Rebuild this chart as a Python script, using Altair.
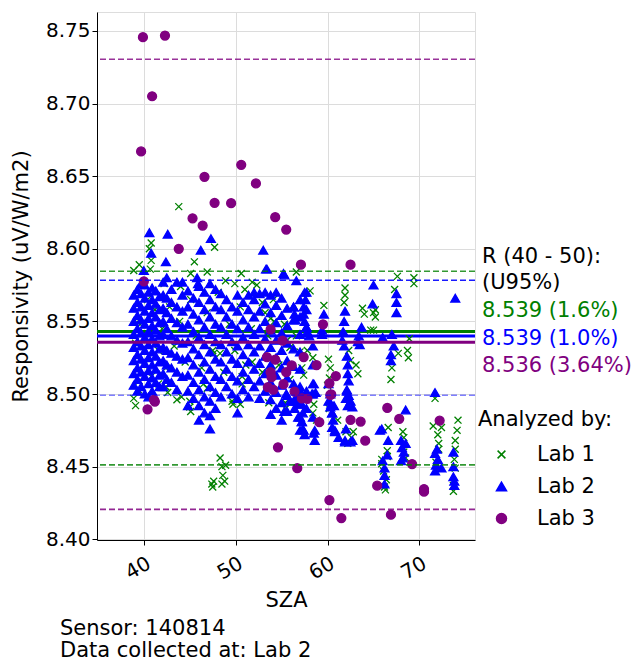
import altair as alt
import pandas as pd

# ---------------- data ----------------
lab_names = ["Lab 1", "Lab 2", "Lab 3"]
lab_colors = ["green", "blue", "purple"]
lab_fills = ["transparent", "blue", "purple"]

mean_values = [8.5431, 8.5399, 8.5357]
upper_limits = [8.5845, 8.5783, 8.7305]
lower_limits = [8.4512, 8.4992, 8.4206]
summary_texts = ["8.539 (1.6%)", "8.539 (1.0%)", "8.536 (3.64%)"]

x_ticks = [40, 50, 60, 70]
y_ticks = [8.40, 8.45, 8.50, 8.55, 8.60, 8.65, 8.70, 8.75]

# Lab 1 (green x)
lab1_points = [
    (43.8, 8.629), (40.8, 8.604), (40.6, 8.600), (40.8, 8.592), (40.7, 8.586), (39.5, 8.589),
    (38.9, 8.585), (45.5, 8.591), (45.1, 8.583), (47.7, 8.601), (46.9, 8.584), (50.6, 8.583),
    (51.8, 8.577), (52.9, 8.563), (53.2, 8.556), (53.8, 8.552), (54.2, 8.550), (56.6, 8.584),
    (58.1, 8.571), (59.6, 8.561), (61.9, 8.573), (61.9, 8.568), (61.8, 8.563), (63.8, 8.559),
    (64.0, 8.555), (65.0, 8.556), (64.7, 8.544), (65.0, 8.544), (62.3, 8.530), (62.5, 8.523),
    (63.1, 8.520), (63.3, 8.514), (57.0, 8.529), (58.4, 8.525), (57.2, 8.518), (57.4, 8.513),
    (60.1, 8.524), (60.3, 8.518), (60.2, 8.511), (60.0, 8.506), (58.5, 8.493), (58.4, 8.487),
    (58.8, 8.482), (61.1, 8.482), (62.0, 8.474), (62.6, 8.470), (62.8, 8.474), (62.2, 8.466),
    (60.2, 8.490), (60.4, 8.492),
    (67.6, 8.581), (69.4, 8.580), (69.4, 8.576), (67.3, 8.572), (65.2, 8.558), (65.2, 8.553),
    (67.7, 8.528), (68.7, 8.530), (68.8, 8.525), (67.0, 8.518), (66.9, 8.510), (68.9, 8.538),
    (71.7, 8.497), (66.6, 8.477), (66.5, 8.461), (66.5, 8.457), (65.9, 8.455), (65.9, 8.452),
    (66.2, 8.436), (66.3, 8.434), (68.2, 8.474), (68.3, 8.470), (68.2, 8.465), (68.3, 8.460),
    (68.5, 8.456), (71.5, 8.478), (72.4, 8.477), (72.0, 8.472), (72.1, 8.466), (72.1, 8.462),
    (71.8, 8.453), (72.1, 8.449), (74.2, 8.482), (74.1, 8.475), (73.9, 8.468), (73.9, 8.462),
    (73.8, 8.455), (73.9, 8.449), (73.7, 8.437), (73.7, 8.433), (66.1, 8.447), (66.4, 8.441),
    (48.3, 8.456), (48.5, 8.450), (48.9, 8.451), (48.6, 8.444), (48.8, 8.440), (48.5, 8.438),
    (47.4, 8.438), (47.6, 8.440), (47.5, 8.436),
    (39.5, 8.509), (39.4, 8.503), (41.6, 8.507), (42.4, 8.505), (42.6, 8.501), (45.0, 8.495),
    (45.0, 8.491), (45.1, 8.488), (46.5, 8.507), (46.9, 8.504), (47.6, 8.528), (48.3, 8.528),
    (51.8, 8.522), (50.7, 8.512), (50.7, 8.507), (49.6, 8.495), (49.7, 8.493), (53.6, 8.494),
    (55.6, 8.537), (55.9, 8.532), (38.9, 8.497), (39.1, 8.492), (43.6, 8.496), (44.1, 8.498),
    (50.5, 8.493), (55.4, 8.494), (55.4, 8.490),
    (39.1, 8.535), (39.6, 8.548), (40.0, 8.520), (40.4, 8.565), (40.8, 8.512), (41.2, 8.558),
    (41.6, 8.530), (42.0, 8.545), (42.4, 8.518), (42.8, 8.560), (43.3, 8.533), (43.9, 8.550),
    (44.5, 8.522), (45.1, 8.565), (45.7, 8.540), (46.3, 8.518), (46.9, 8.556), (47.5, 8.530),
    (48.1, 8.570), (48.7, 8.515), (49.3, 8.548), (49.9, 8.530), (50.5, 8.560), (51.1, 8.520),
    (51.7, 8.545), (52.3, 8.575), (52.9, 8.515), (53.5, 8.540), (54.1, 8.565), (54.7, 8.520),
    (55.3, 8.548), (55.9, 8.510), (56.6, 8.540), (57.3, 8.500), (57.8, 8.530), (44.0, 8.574),
    (42.2, 8.576), (48.9, 8.578), (49.9, 8.576), (51.0, 8.572),
]

# Lab 2 (blue triangles)
lab2_points = [
    (40.6, 8.611), (42.6, 8.610), (40.8, 8.597), (42.4, 8.591), (40.0, 8.585), (46.2, 8.599),
    (47.3, 8.607), (53.0, 8.599), (53.3, 8.586), (55.3, 8.582), (42.5, 8.580), (43.6, 8.577),
    (45.8, 8.580), (45.9, 8.576), (56.6, 8.578), (65.0, 8.575), (64.9, 8.562), (67.5, 8.569),
    (67.5, 8.563), (67.5, 8.556), (73.9, 8.566), (53.4, 8.586), (55.2, 8.583),
    (38.9, 8.506), (38.9, 8.514), (38.9, 8.523), (38.9, 8.532), (38.9, 8.541), (38.9, 8.550),
    (38.9, 8.559), (38.9, 8.568),
    (39.3, 8.502), (39.3, 8.510), (39.3, 8.518), (39.3, 8.527), (39.3, 8.536), (39.3, 8.545),
    (39.3, 8.554), (39.3, 8.563), (39.3, 8.572),
    (39.7, 8.505), (39.7, 8.515), (39.7, 8.524), (39.7, 8.533), (39.7, 8.542), (39.7, 8.551),
    (39.7, 8.560), (39.7, 8.569), (39.7, 8.576),
    (40.1, 8.500), (40.1, 8.512), (40.1, 8.521), (40.1, 8.530), (40.1, 8.539), (40.1, 8.548),
    (40.1, 8.557), (40.1, 8.566), (40.1, 8.575),
    (40.5, 8.498), (40.5, 8.507), (40.5, 8.516), (40.5, 8.525), (40.5, 8.534), (40.5, 8.543),
    (40.5, 8.552), (40.5, 8.561), (40.5, 8.570),
    (40.9, 8.502), (40.9, 8.511), (40.9, 8.520), (40.9, 8.529), (40.9, 8.538), (40.9, 8.547),
    (40.9, 8.556), (40.9, 8.565), (40.9, 8.573),
    (41.3, 8.508), (41.3, 8.517), (41.3, 8.526), (41.3, 8.535), (41.3, 8.544), (41.3, 8.553),
    (41.3, 8.562), (41.3, 8.571),
    (41.7, 8.505), (41.7, 8.513), (41.7, 8.522), (41.7, 8.531), (41.7, 8.540), (41.7, 8.549),
    (41.7, 8.558), (41.7, 8.567),
    (42.1, 8.505), (42.1, 8.514), (42.1, 8.523), (42.1, 8.532), (42.1, 8.541), (42.1, 8.550),
    (42.1, 8.559), (42.1, 8.568), (42.1, 8.577),
    (42.5, 8.510), (42.5, 8.520), (42.5, 8.530), (42.5, 8.545), (42.5, 8.556), (42.5, 8.566),
    (43.0, 8.508), (43.0, 8.518), (43.0, 8.528), (43.0, 8.540), (43.0, 8.552), (43.0, 8.563), (43.0, 8.572),
    (43.6, 8.503), (43.6, 8.515), (43.6, 8.526), (43.6, 8.537), (43.6, 8.549), (43.6, 8.560),
    (44.2, 8.512), (44.2, 8.524), (44.2, 8.535), (44.2, 8.546), (44.2, 8.557), (44.2, 8.568), (44.2, 8.577),
    (44.8, 8.492), (44.8, 8.502), (44.8, 8.513), (44.8, 8.525), (44.8, 8.536), (44.8, 8.548),
    (44.8, 8.560), (44.8, 8.571),
    (45.4, 8.497), (45.4, 8.508), (45.4, 8.520), (45.4, 8.531), (45.4, 8.543), (45.4, 8.555), (45.4, 8.566),
    (46.0, 8.482), (46.0, 8.492), (46.0, 8.503), (46.0, 8.515), (46.0, 8.527), (46.0, 8.539),
    (46.0, 8.551), (46.0, 8.563), (46.0, 8.574),
    (46.6, 8.487), (46.6, 8.498), (46.6, 8.510), (46.6, 8.522), (46.6, 8.534), (46.6, 8.546),
    (46.6, 8.558), (46.6, 8.570),
    (47.2, 8.476), (47.2, 8.485), (47.2, 8.495), (47.2, 8.505), (47.2, 8.517), (47.2, 8.529),
    (47.2, 8.541), (47.2, 8.553), (47.2, 8.565), (47.2, 8.576),
    (47.8, 8.490), (47.8, 8.501), (47.8, 8.512), (47.8, 8.524), (47.8, 8.536), (47.8, 8.548),
    (47.8, 8.560), (47.8, 8.572),
    (48.4, 8.498), (48.4, 8.510), (48.4, 8.522), (48.4, 8.534), (48.4, 8.546), (48.4, 8.558), (48.4, 8.569),
    (49.0, 8.505), (49.0, 8.517), (49.0, 8.529), (49.0, 8.541), (49.0, 8.553), (49.0, 8.565),
    (49.6, 8.500), (49.6, 8.512), (49.6, 8.524), (49.6, 8.536), (49.6, 8.548), (49.6, 8.560),
    (50.2, 8.487), (50.2, 8.497), (50.2, 8.509), (50.2, 8.521), (50.2, 8.533), (50.2, 8.545),
    (50.2, 8.557), (50.2, 8.568),
    (50.8, 8.503), (50.8, 8.515), (50.8, 8.527), (50.8, 8.539), (50.8, 8.551), (50.8, 8.563),
    (51.4, 8.498), (51.4, 8.510), (51.4, 8.522), (51.4, 8.534), (51.4, 8.546), (51.4, 8.558), (51.4, 8.568),
    (52.0, 8.505), (52.0, 8.517), (52.0, 8.529), (52.0, 8.541), (52.0, 8.553), (52.0, 8.565), (52.0, 8.570),
    (52.6, 8.497), (52.6, 8.509), (52.6, 8.521), (52.6, 8.533), (52.6, 8.545), (52.6, 8.557), (52.6, 8.569),
    (53.2, 8.502), (53.2, 8.514), (53.2, 8.526), (53.2, 8.538), (53.2, 8.550), (53.2, 8.562), (53.2, 8.570),
    (53.8, 8.486), (53.8, 8.496), (53.8, 8.508), (53.8, 8.520), (53.8, 8.532), (53.8, 8.544),
    (53.8, 8.556), (53.8, 8.568),
    (54.4, 8.490), (54.4, 8.501), (54.4, 8.513), (54.4, 8.525), (54.4, 8.537), (54.4, 8.549),
    (54.4, 8.561), (54.4, 8.570),
    (55.0, 8.482), (55.0, 8.494), (55.0, 8.506), (55.0, 8.518), (55.0, 8.530), (55.0, 8.542),
    (55.0, 8.554), (55.0, 8.566),
    (55.6, 8.488), (55.6, 8.499), (55.6, 8.511), (55.6, 8.523), (55.6, 8.535), (55.6, 8.547), (55.6, 8.559),
    (56.3, 8.495), (56.3, 8.507), (56.3, 8.519), (56.3, 8.531), (56.3, 8.551), (56.3, 8.560),
    (57.0, 8.475), (57.0, 8.484), (57.0, 8.493), (57.0, 8.505), (57.0, 8.517), (57.0, 8.529),
    (57.0, 8.541), (57.0, 8.553), (57.0, 8.565),
    (57.7, 8.490), (57.7, 8.502), (57.7, 8.546), (57.7, 8.558), (57.7, 8.570),
    (58.4, 8.500), (58.4, 8.507), (58.4, 8.520), (58.4, 8.533),
    (55.3, 8.488), (56.4, 8.490), (56.8, 8.484), (57.2, 8.493), (57.3, 8.487), (57.2, 8.481),
    (57.3, 8.476), (57.5, 8.472), (58.4, 8.484), (58.6, 8.475), (58.6, 8.468), (56.6, 8.495),
    (60.1, 8.507), (60.3, 8.500), (60.4, 8.493), (60.5, 8.487), (60.6, 8.482), (60.5, 8.477),
    (60.8, 8.474), (61.2, 8.470), (62.0, 8.476), (62.7, 8.468), (61.9, 8.468), (62.1, 8.526),
    (62.2, 8.520), (62.2, 8.514), (62.3, 8.509), (62.1, 8.503), (62.0, 8.497), (62.2, 8.492),
    (59.4, 8.541), (59.4, 8.544), (59.6, 8.555), (58.3, 8.500), (61.9, 8.557), (61.8, 8.550),
    (61.7, 8.543), (61.6, 8.537), (61.8, 8.533), (63.7, 8.546), (63.4, 8.540), (63.5, 8.534),
    (63.3, 8.536), (56.3, 8.560), (56.4, 8.555), (56.5, 8.551), (57.5, 8.570), (57.6, 8.565),
    (57.4, 8.560), (57.4, 8.555), (57.5, 8.550), (57.7, 8.546), (57.8, 8.543), (58.0, 8.540),
    (65.7, 8.475),
    (55.5, 8.500), (55.9, 8.495), (56.7, 8.499), (57.0, 8.502), (58.5, 8.507), (58.7, 8.501),
    (60.1, 8.495), (60.3, 8.491), (60.5, 8.487), (60.7, 8.492), (62.1, 8.502), (62.3, 8.499),
    (62.5, 8.495), (62.7, 8.491), (61.9, 8.467), (62.5, 8.467), (60.8, 8.475), (58.5, 8.473),
    (57.4, 8.475), (57.2, 8.481),
    (67.0, 8.541), (67.2, 8.533), (66.9, 8.527), (66.9, 8.523), (66.0, 8.539), (71.7, 8.501),
    (68.5, 8.489), (65.9, 8.476), (66.6, 8.468), (66.5, 8.458), (66.2, 8.449), (66.2, 8.444),
    (66.2, 8.438), (66.0, 8.454), (68.0, 8.468), (68.1, 8.463), (68.3, 8.460), (68.2, 8.456),
    (68.0, 8.454), (68.5, 8.466), (71.7, 8.459), (72.0, 8.455), (71.8, 8.451), (72.4, 8.449),
    (71.7, 8.447), (71.9, 8.462), (73.7, 8.460), (73.7, 8.443), (73.8, 8.440), (73.7, 8.450),
    (73.8, 8.437),
]

# Lab 3 (purple circles)
lab3_points = [
    (39.9, 8.7457), (42.3, 8.7468), (40.9, 8.705), (39.7, 8.667), (46.6, 8.6495), (50.6, 8.6578),
    (52.2, 8.645), (47.7, 8.6316), (49.5, 8.6314), (45.3, 8.621), (46.4, 8.616), (43.8, 8.600),
    (54.3, 8.6217), (55.5, 8.6132), (40.0, 8.5776), (53.8, 8.5445), (55.1, 8.5367),
    (53.4, 8.5254), (54.3, 8.5236), (53.8, 8.515), (53.9, 8.5116), (53.5, 8.5047), (54.1, 8.5029),
    (55.2, 8.5068), (57.1, 8.589), (62.5, 8.589), (59.5, 8.548), (57.4, 8.5254), (56.1, 8.5197),
    (58.8, 8.5199), (55.5, 8.515), (60.9, 8.5123), (60.2, 8.5074), (56.4, 8.5017), (60.4, 8.4997),
    (57.2, 8.497), (57.8, 8.4967), (41.1, 8.496), (40.4, 8.4895), (41.2, 8.4948), (54.6, 8.4633),
    (59.1, 8.4806), (62.5, 8.4822), (63.6, 8.481), (64.1, 8.4679), (66.5, 8.4904), (67.8, 8.4829),
    (69.2, 8.4518), (72.2, 8.4817), (65.4, 8.4369), (70.5, 8.4346), (70.5, 8.4328), (56.7, 8.4489),
    (60.2, 8.427), (61.5, 8.4146), (66.9, 8.4169), (60.3, 8.4994),
]

# ---------------- build tables ----------------
rows = []
for name, pts in zip(lab_names, [lab1_points, lab2_points, lab3_points]):
    for sza, resp in pts:
        rows.append({"lab": name, "sza": sza, "resp": resp})
points_df = pd.DataFrame(rows)

FONT = "DejaVu Sans"
x_scale = alt.Scale(domain=[34.9, 76.05], nice=False, zero=False)
y_scale = alt.Scale(domain=[8.3995, 8.763], nice=False, zero=False)

x_axis = alt.Axis(
    values=x_ticks, title="SZA", titleFontSize=21, labelFontSize=20, labelAngle=330,
    labelAlign="right", labelBaseline="top", labelPadding=8, labelFont=FONT, titleFont=FONT,
    titleFontWeight="normal", titleColor="black", labelColor="black", tickColor="black",
    domainColor="black", tickSize=5, gridColor="#dcdcdc", titleX=189, titleY=60,
    titleBaseline="middle", titleAlign="center",
)
y_axis = alt.Axis(
    values=y_ticks, format=".2f", title="Responsivity (uV/W/m2)", titleFontSize=21,
    labelFontSize=20, labelFont=FONT, titleFont=FONT, titleFontWeight="normal",
    titleColor="black", labelColor="black", tickColor="black", domainColor="black",
    tickSize=5, labelPadding=2, gridColor="#dcdcdc", titleAngle=270, titleX=-76, titleY=264,
    titleBaseline="middle", titleAlign="center",
)

xpath = "M-0.78,-0.78L0.78,0.78M-0.78,0.78L0.78,-0.78"
legend = alt.Legend(
    title="Analyzed by:", orient="none", legendX=381, legendY=397, titleFontSize=21,
    labelFontSize=21, titleFont=FONT, labelFont=FONT, titleFontWeight="normal",
    titleColor="black", labelColor="black", symbolSize=100, symbolStrokeWidth=1.5,
    padding=0, symbolOffset=13, labelOffset=25, rowPadding=10, titlePadding=14,
)

X = alt.X("sza:Q", scale=x_scale, axis=x_axis)
Y = alt.Y("resp:Q", scale=y_scale, axis=y_axis)

scatter = alt.Chart(points_df).mark_point(filled=False, opacity=1, size=80, strokeWidth=1.3).encode(
    x=X, y=Y,
    shape=alt.Shape("lab:N", scale=alt.Scale(domain=lab_names, range=[xpath, "triangle-up", "circle"]), legend=legend),
    stroke=alt.Stroke("lab:N", scale=alt.Scale(domain=lab_names, range=lab_colors), legend=legend),
    fill=alt.Fill("lab:N", scale=alt.Scale(domain=lab_names, range=lab_fills), legend=legend),
)


def hline(value, color, width, dash=None, opacity=1.0):
    kw = dict(color=color, strokeWidth=width, opacity=opacity)
    if dash:
        kw["strokeDash"] = dash
    return alt.Chart(pd.DataFrame({"resp": [value]})).mark_rule(**kw).encode(y=Y)


dashed = []
dash_opac_up = [0.8, 0.9, 0.8]
dash_opac_lo = [0.8, 0.5, 0.85]
for i in range(3):
    dashed.append(hline(upper_limits[i], lab_colors[i], 1.6, [6, 3], dash_opac_up[i]))
    dashed.append(hline(lower_limits[i], lab_colors[i], 1.6, [6, 3], dash_opac_lo[i]))

solid_green = hline(mean_values[0], lab_colors[0], 3)
solid_blue = hline(mean_values[1], lab_colors[1], 3)
solid_purple = hline(mean_values[2], lab_colors[2], 3)


def label(text, xpix, ypix, color="black"):
    return alt.Chart(pd.DataFrame({"t": [text]})).mark_text(
        align="left", baseline="middle", fontSize=21, font=FONT, color=color
    ).encode(x=alt.value(xpix), y=alt.value(ypix), text="t:N")


texts = [
    label("R (40 - 50):", 385, 245),
    label("(U95%)", 385, 271),
    label(summary_texts[0], 385, 299, lab_colors[0]),
    label(summary_texts[1], 385, 327, lab_colors[1]),
    label(summary_texts[2], 385, 354, lab_colors[2]),
    label("Sensor: 140814", -37, 617),
    label("Data collected at: Lab 2", -37, 639),
]

chart = alt.layer(
    solid_green, solid_blue, scatter, *dashed, solid_purple, *texts
).properties(
    width=378, height=528,
    autosize=alt.AutoSizeParams(type="none"),
    padding={"left": 97, "top": 12, "right": 164, "bottom": 122},
).configure_view(
    stroke="black", strokeWidth=1.2
).configure(background="white")

chart.save("out.html", embed_options={"renderer": "svg", "actions": False})
